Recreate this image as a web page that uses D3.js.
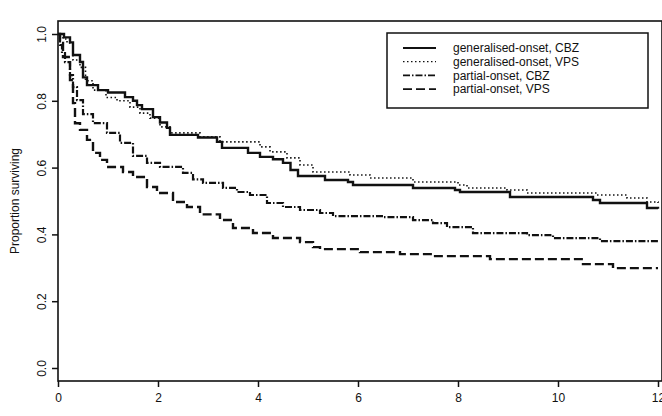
<!DOCTYPE html>
<html>
  <head>
    <meta charset="utf-8" />
    <title>Proportion surviving</title>
    <style>
      body {
        margin: 0;
        background: #fff;
      }
      svg {
        display: block;
        font-family: "Liberation Sans", Arial, sans-serif;
      }
      .axis text {
        font-size: 12px;
        fill: #111;
      }
      .axis path,
      .axis line {
        stroke: #111;
        stroke-width: 1.5;
      }
      .curve {
        fill: none;
        stroke: #111;
      }
    </style>
    <script src="https://d3js.org/d3.v7.min.js" charset="utf-8"></script>
  </head>
  <body>
    <script>
      // Kaplan-Meier estimates, [years, proportion surviving]
      const genCBZ = [
        [0, 1.0], [0.12, 0.99], [0.24, 0.975], [0.3, 0.937], [0.44, 0.916],
        [0.5, 0.87], [0.58, 0.847], [0.8, 0.832], [1.0, 0.825], [1.34, 0.811],
        [1.5, 0.8], [1.58, 0.787], [1.68, 0.775], [1.9, 0.751], [2.04, 0.735],
        [2.18, 0.719], [2.24, 0.698], [2.8, 0.69], [3.18, 0.677], [3.28, 0.659],
        [3.8, 0.644], [4.04, 0.632], [4.3, 0.625], [4.5, 0.614], [4.65, 0.593],
        [4.8, 0.575], [5.34, 0.563], [5.8, 0.557], [5.9, 0.548], [7.1, 0.539],
        [7.94, 0.533], [8.04, 0.527], [9.04, 0.512], [10.7, 0.503],
        [10.84, 0.494], [11.78, 0.479], [12, 0.477]
      ];
      const genVPS = [
        [0, 1.0], [0.1, 0.985], [0.18, 0.973], [0.3, 0.922], [0.44, 0.9],
        [0.55, 0.86], [0.7, 0.832], [0.96, 0.81], [1.18, 0.8], [1.44, 0.781],
        [1.64, 0.763], [1.84, 0.748], [2.04, 0.722], [2.24, 0.704], [2.84, 0.692],
        [3.24, 0.677], [4.04, 0.662], [4.24, 0.647], [4.58, 0.629], [4.84, 0.608],
        [5.1, 0.587], [5.84, 0.578], [6.24, 0.569], [7.1, 0.557], [8.0, 0.548],
        [8.18, 0.539], [8.98, 0.533], [9.38, 0.524], [10.78, 0.518],
        [11.38, 0.509], [11.78, 0.497], [12, 0.494]
      ];
      const partCBZ = [
        [0, 1.0], [0.04, 0.967], [0.08, 0.943], [0.14, 0.916], [0.24, 0.877],
        [0.3, 0.841], [0.38, 0.802], [0.5, 0.76], [0.7, 0.733], [0.98, 0.704],
        [1.24, 0.674], [1.5, 0.635], [1.78, 0.614], [2.04, 0.602], [2.5, 0.584],
        [2.7, 0.565], [2.9, 0.554], [3.3, 0.539], [3.58, 0.527], [3.84, 0.518],
        [4.18, 0.494], [4.5, 0.482], [4.84, 0.473], [5.24, 0.464], [5.5, 0.455],
        [6.5, 0.452], [7.1, 0.443], [7.5, 0.434], [7.78, 0.422], [8.3, 0.404],
        [9.38, 0.398], [9.9, 0.389], [10.84, 0.38], [12, 0.38]
      ];
      const partVPS = [
        [0, 1.0], [0.04, 0.973], [0.1, 0.931], [0.24, 0.862], [0.3, 0.793],
        [0.34, 0.733], [0.44, 0.713], [0.58, 0.683], [0.7, 0.644], [0.84, 0.623],
        [0.98, 0.602], [1.3, 0.587], [1.5, 0.572], [1.78, 0.542], [1.98, 0.524],
        [2.3, 0.497], [2.58, 0.482], [2.84, 0.46], [3.24, 0.443], [3.5, 0.419],
        [3.9, 0.404], [4.3, 0.389], [4.84, 0.377], [5.1, 0.362], [5.24, 0.356],
        [6.04, 0.347], [6.84, 0.341], [7.5, 0.335], [8.64, 0.326], [9.98, 0.326],
        [10.5, 0.311], [11.1, 0.299], [12, 0.299]
      ];

      const seriesNames = [
        "generalised-onset, CBZ",
        "generalised-onset, VPS",
        "partial-onset, CBZ",
        "partial-onset, VPS"
      ];
      const xTicks = [0, 2, 4, 6, 8, 10, 12];
      const yTicks = [0, 0.2, 0.4, 0.6, 0.8, 1.0];

      const series = [genCBZ, genVPS, partCBZ, partVPS];
      const dashes = ["none", "1.5,2.5", "7,2,1.5,2", "9,4"];
      const widths = [2.4, 1.6, 2.2, 2.4];

      const width = 662,
        height = 416;
      const plot = { left: 58, right: 662, top: 21, bottom: 381 };

      const x = d3.scaleLinear().domain([0, 12]).range([58, 658]);
      const y = d3.scaleLinear().domain([0, 1]).range([368, 34]);

      const svg = d3
        .select("body")
        .append("svg")
        .attr("width", width)
        .attr("height", height);

      // plot frame
      svg
        .append("rect")
        .attr("x", plot.left)
        .attr("y", plot.top)
        .attr("width", plot.right - plot.left)
        .attr("height", plot.bottom - plot.top)
        .attr("fill", "none")
        .attr("stroke", "#111")
        .attr("stroke-width", 1.6);

      const xAxis = svg
        .append("g")
        .attr("class", "axis")
        .attr("transform", "translate(0," + plot.bottom + ")")
        .call(
          d3.axisBottom(x).tickValues(xTicks).tickSize(6).tickPadding(6)
            .tickFormat(d3.format("d"))
        );
      xAxis.select(".domain").remove();

      const yAxis = svg
        .append("g")
        .attr("class", "axis")
        .attr("transform", "translate(" + plot.left + ",0)")
        .call(
          d3.axisLeft(y).tickValues(yTicks).tickSize(6).tickPadding(0)
            .tickFormat(d3.format(".1f"))
        );
      yAxis.select(".domain").remove();
      yAxis
        .selectAll(".tick text")
        .attr("text-anchor", "middle")
        .attr("x", null)
        .attr("dy", null)
        .attr("transform", "translate(-16,0) rotate(-90) translate(0,4)");

      svg
        .append("text")
        .attr("transform", "translate(19,201) rotate(-90)")
        .attr("text-anchor", "middle")
        .style("font-size", "12px")
        .attr("fill", "#111")
        .text("Proportion surviving");

      const line = d3
        .line()
        .x(function (d) {
          return x(d[0]);
        })
        .y(function (d) {
          return y(d[1]);
        })
        .curve(d3.curveStepAfter);

      svg
        .selectAll(".curve")
        .data(series)
        .join("path")
        .attr("class", "curve")
        .attr("d", line)
        .attr("stroke-width", function (d, i) {
          return widths[i];
        })
        .attr("stroke-dasharray", function (d, i) {
          return dashes[i];
        });

      // legend
      const legend = svg.append("g").attr("transform", "translate(387,33)");
      legend
        .append("rect")
        .attr("width", 261)
        .attr("height", 75)
        .attr("fill", "#fff")
        .attr("stroke", "#111")
        .attr("stroke-width", 1.5);

      const item = legend
        .selectAll(".item")
        .data(seriesNames)
        .join("g")
        .attr("class", "item")
        .attr("transform", function (d, i) {
          return "translate(0," + (15 + i * 13.7) + ")";
        });

      item
        .append("line")
        .attr("x1", 16)
        .attr("x2", 49)
        .attr("stroke", "#111")
        .attr("stroke-width", function (d, i) {
          return i === 1 ? 1.2 : 1.8;
        })
        .attr("stroke-dasharray", function (d, i) {
          return dashes[i];
        });

      item
        .append("text")
        .attr("x", 66)
        .attr("dy", ".35em")
        .style("font-size", "12px")
        .attr("fill", "#111")
        .text(function (d) {
          return d;
        });
    </script>
  </body>
</html>
